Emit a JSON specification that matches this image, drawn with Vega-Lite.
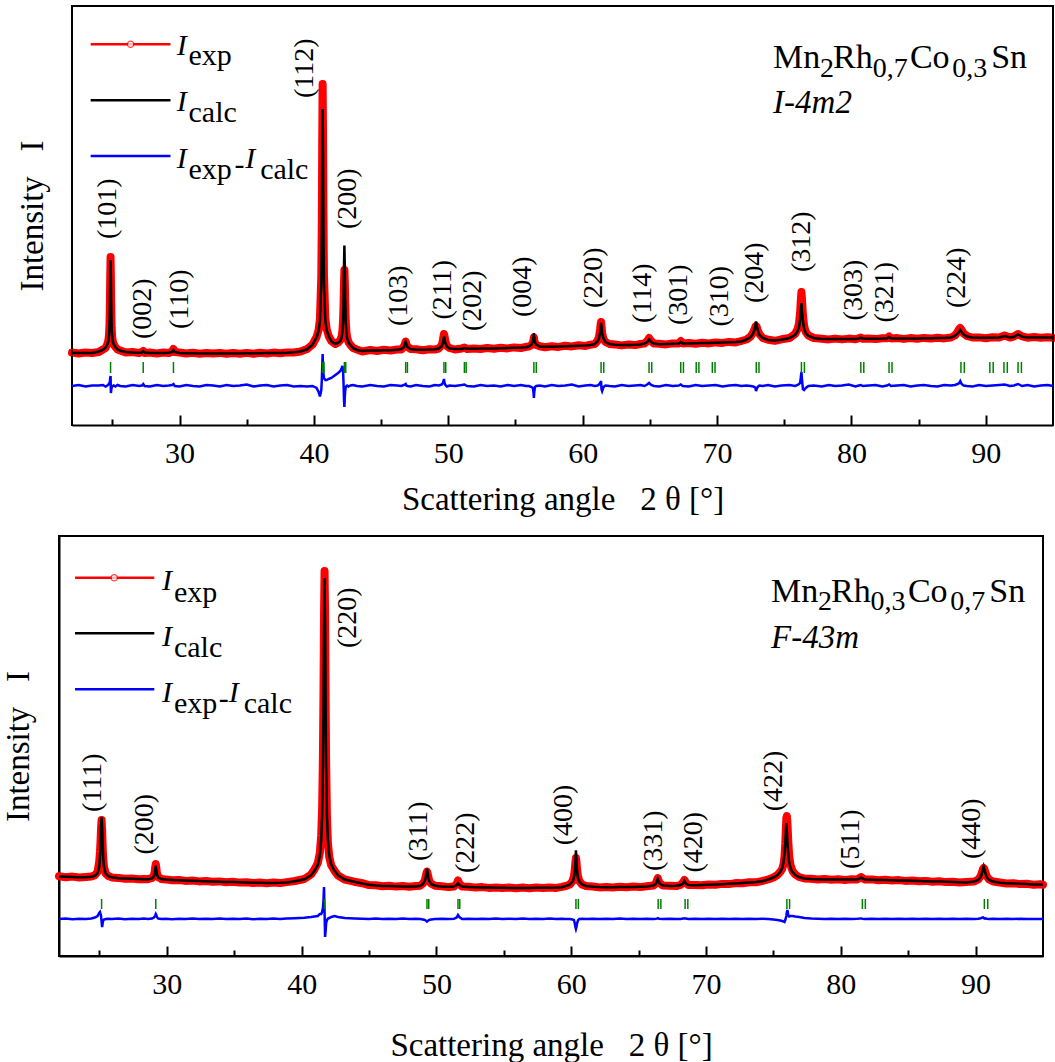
{
"$schema": "https://vega.github.io/schema/vega-lite/v6.json",
"background": "white",
"padding": {"left": 1, "top": 4, "right": 0, "bottom": 0},
"spacing": 19,
"config": {
  "view": {"stroke": "black", "strokeWidth": 2},
  "font": "Liberation Serif",
  "axis": {"grid": false}
},
"resolve": {"scale": {"x": "independent", "y": "independent"}},
"datasets": {
"top": [
{"x":22.0,"c":72,"e":72.5,"d":39},{"x":22.5,"c":72,"e":71.5,"d":40},{"x":23.0,"c":72,"e":72.5,"d":38.5},{"x":23.5,"c":72,"e":72,"d":39.5},
{"x":24.0,"c":73.5,"e":73,"d":39.5},{"x":24.3,"c":75,"e":75.5,"d":40},{"x":24.5,"c":77.5,"e":77,"d":38.5},{"x":24.63,"c":80.4,"e":81,"d":39.5},
{"x":24.71,"c":84,"e":85,"d":40.5},{"x":24.75,"c":88.7,"e":89.5,"d":41},{"x":24.79,"c":98,"e":100,"d":42},{"x":24.82,"c":117.6,"e":120,"d":44},
{"x":24.845,"c":145.5,"e":148,"d":47},{"x":24.87,"c":165,"e":168,"d":49},{"x":24.895,"c":145.5,"e":146,"d":32},{"x":24.92,"c":117.6,"e":116,"d":35},
{"x":24.95,"c":98,"e":97,"d":37.5},{"x":24.99,"c":88.7,"e":88,"d":38.5},{"x":25.03,"c":84.1,"e":84,"d":39},{"x":25.11,"c":80.4,"e":80.5,"d":39.5},
{"x":25.23,"c":78,"e":78,"d":38.5},{"x":25.39,"c":75.7,"e":75.5,"d":40},{"x":25.59,"c":74.3,"e":74.5,"d":39},{"x":26.0,"c":73,"e":72.5,"d":38.5},
{"x":26.5,"c":72.5,"e":73,"d":40},{"x":27.0,"c":72.3,"e":72,"d":39},{"x":27.2,"c":72.5,"e":73,"d":39.5},{"x":27.3,"c":74,"e":74,"d":41},
{"x":27.4,"c":72.5,"e":72,"d":39},{"x":27.8,"c":72,"e":72.5,"d":38.5},{"x":28.3,"c":72,"e":71.5,"d":40},{"x":28.8,"c":72,"e":72.5,"d":39},
{"x":29.2,"c":72.2,"e":72,"d":39.5},{"x":29.45,"c":73,"e":73.5,"d":40},{"x":29.55,"c":75,"e":76,"d":41},{"x":29.65,"c":73,"e":73,"d":39},
{"x":30.0,"c":72,"e":72.5,"d":38.5},{"x":30.5,"c":71.8,"e":71.5,"d":40},{"x":31.0,"c":71.8,"e":72.3,"d":39},{"x":31.5,"c":71.6,"e":71.2,"d":38.5},
{"x":32.0,"c":71.6,"e":72,"d":40},{"x":32.5,"c":71.6,"e":71.4,"d":39.5},{"x":33.0,"c":71.6,"e":72.1,"d":38.5},{"x":33.5,"c":71.6,"e":71.2,"d":40},
{"x":34.0,"c":71.6,"e":72,"d":39},{"x":34.5,"c":71.6,"e":71.3,"d":39.5},{"x":35.0,"c":71.7,"e":72.1,"d":40.5},{"x":35.5,"c":71.7,"e":71.3,"d":38.5},
{"x":36.0,"c":71.8,"e":72.2,"d":39.5},{"x":36.5,"c":71.9,"e":71.5,"d":40},{"x":37.0,"c":72,"e":72.4,"d":38.5},{"x":37.5,"c":72.1,"e":71.8,"d":39.5},
{"x":38.0,"c":72.3,"e":72.6,"d":40},{"x":38.5,"c":72.8,"e":72.5,"d":38.5},{"x":39.0,"c":73.5,"e":73.5,"d":39},{"x":39.5,"c":75.7,"e":76,"d":38.5},
{"x":39.9,"c":80.2,"e":80.5,"d":39},{"x":40.2,"c":87.9,"e":88,"d":37},{"x":40.35,"c":94,"e":95,"d":33},{"x":40.45,"c":103.8,"e":106,"d":28.5},
{"x":40.55,"c":140.5,"e":148,"d":35},{"x":40.59,"c":194,"e":205,"d":45},{"x":40.62,"c":267,"e":285,"d":58},{"x":40.65,"c":316,"e":341,"d":71},
{"x":40.68,"c":267.5,"e":290,"d":60},{"x":40.71,"c":194.5,"e":212,"d":51},{"x":40.75,"c":141.5,"e":150,"d":47},{"x":40.85,"c":104.4,"e":107,"d":45},
{"x":40.95,"c":94.8,"e":96,"d":45},{"x":41.1,"c":89,"e":89,"d":46},{"x":41.3,"c":83.6,"e":84,"d":47},{"x":41.6,"c":81.2,"e":81,"d":50},
{"x":41.8,"c":82.1,"e":82.5,"d":52},{"x":41.97,"c":83.9,"e":85,"d":54},{"x":42.07,"c":87.9,"e":89,"d":57},{"x":42.12,"c":93,"e":94,"d":59},
{"x":42.17,"c":103.5,"e":104,"d":55},{"x":42.21,"c":126.8,"e":122,"d":40},{"x":42.24,"c":158.5,"e":143,"d":25},{"x":42.27,"c":179.6,"e":155,"d":18},
{"x":42.30,"c":158.3,"e":144,"d":28},{"x":42.33,"c":126.5,"e":124,"d":34},{"x":42.37,"c":103.1,"e":104,"d":38},{"x":42.42,"c":92.4,"e":93,"d":39},
{"x":42.47,"c":87.1,"e":88,"d":39.5},{"x":42.57,"c":82.6,"e":83,"d":38.5},{"x":42.72,"c":79.8,"e":80,"d":39.5},{"x":42.92,"c":76.8,"e":77,"d":40},
{"x":43.2,"c":75,"e":75.5,"d":39},{"x":43.6,"c":74,"e":73.5,"d":38.5},{"x":44.2,"c":74.5,"e":75,"d":40},{"x":44.7,"c":74.5,"e":74,"d":39},
{"x":45.2,"c":74.7,"e":75.2,"d":38.5},{"x":45.7,"c":74.8,"e":74.5,"d":40},{"x":46.2,"c":75.2,"e":75.5,"d":39.5},{"x":46.5,"c":76,"e":75.5,"d":39},
{"x":46.7,"c":78,"e":78.5,"d":40},{"x":46.78,"c":81,"e":81.5,"d":40.5},{"x":46.83,"c":83,"e":83.5,"d":41},{"x":46.88,"c":81,"e":81,"d":39.5},
{"x":46.96,"c":78,"e":78.5,"d":39},{"x":47.2,"c":76,"e":76,"d":38.5},{"x":47.6,"c":75.3,"e":75.8,"d":40},{"x":48.1,"c":75.2,"e":74.8,"d":39},
{"x":48.6,"c":75.4,"e":75.8,"d":38.5},{"x":49.0,"c":75.8,"e":75.5,"d":40},{"x":49.3,"c":76.5,"e":76.5,"d":39.5},{"x":49.52,"c":79,"e":80,"d":40.5},
{"x":49.6,"c":82.5,"e":85,"d":42},{"x":49.65,"c":86,"e":89,"d":44},{"x":49.68,"c":88.5,"e":91,"d":46},{"x":49.72,"c":86,"e":89,"d":42},
{"x":49.78,"c":82,"e":84,"d":40},{"x":49.9,"c":78.5,"e":79,"d":38.5},{"x":50.1,"c":76.5,"e":77,"d":39.5},{"x":50.5,"c":76,"e":75.5,"d":39},
{"x":51.0,"c":76,"e":76.5,"d":40},{"x":51.2,"c":77,"e":77.5,"d":40.5},{"x":51.4,"c":76.2,"e":76,"d":39},{"x":51.9,"c":76.2,"e":76.6,"d":38.5},
{"x":52.4,"c":76.4,"e":76,"d":40},{"x":52.9,"c":76.5,"e":77,"d":39},{"x":53.4,"c":76.6,"e":76.2,"d":39.5},{"x":53.9,"c":76.8,"e":77.2,"d":38.5},
{"x":54.4,"c":77,"e":76.6,"d":40},{"x":54.9,"c":77.2,"e":77.6,"d":39},{"x":55.4,"c":77.4,"e":77,"d":40},{"x":55.8,"c":77.8,"e":78.2,"d":39},
{"x":56.0,"c":78.5,"e":78.5,"d":39},{"x":56.2,"c":80.5,"e":80,"d":38},{"x":56.3,"c":83.5,"e":82.5,"d":37},{"x":56.34,"c":87.5,"e":85,"d":33},
{"x":56.37,"c":92,"e":87.5,"d":27},{"x":56.40,"c":87.5,"e":85,"d":33},{"x":56.45,"c":83,"e":82,"d":38},{"x":56.55,"c":80.5,"e":80,"d":39},
{"x":56.8,"c":78.5,"e":78.8,"d":39.5},{"x":57.2,"c":78.2,"e":77.8,"d":38.5},{"x":57.7,"c":78.3,"e":78.8,"d":40},{"x":58.2,"c":78.5,"e":78.1,"d":39},
{"x":58.7,"c":78.8,"e":79.3,"d":39.5},{"x":59.2,"c":79,"e":78.6,"d":40.5},{"x":59.7,"c":79.2,"e":79.7,"d":38.5},{"x":60.2,"c":79.5,"e":79.1,"d":39.5},
{"x":60.6,"c":80,"e":80.4,"d":40},{"x":60.9,"c":81,"e":81,"d":39},{"x":61.1,"c":83.5,"e":84,"d":39.5},{"x":61.22,"c":87,"e":88.5,"d":40.5},
{"x":61.3,"c":93,"e":96,"d":42},{"x":61.34,"c":98,"e":101,"d":43},{"x":61.37,"c":102,"e":103,"d":44},{"x":61.40,"c":98,"e":99,"d":36},
{"x":61.45,"c":92,"e":92,"d":34},{"x":61.55,"c":86.5,"e":86,"d":38},{"x":61.7,"c":83,"e":83,"d":39.5},{"x":62.0,"c":81,"e":81,"d":39},
{"x":62.4,"c":80.2,"e":80.6,"d":38.5},{"x":62.9,"c":80,"e":79.6,"d":40},{"x":63.4,"c":80.1,"e":80.5,"d":39},{"x":63.9,"c":80.3,"e":79.9,"d":39.5},
{"x":64.3,"c":80.6,"e":81,"d":40},{"x":64.6,"c":81.5,"e":81.5,"d":39},{"x":64.8,"c":83,"e":84,"d":40.5},{"x":64.94,"c":85.5,"e":87,"d":42},
{"x":65.1,"c":83,"e":84,"d":40},{"x":65.3,"c":81.5,"e":81.5,"d":39},{"x":65.7,"c":80.8,"e":81.2,"d":38.5},{"x":66.2,"c":81,"e":80.6,"d":40},
{"x":66.7,"c":81.2,"e":81.6,"d":39},{"x":67.15,"c":81.5,"e":81.5,"d":39.5},{"x":67.3,"c":83,"e":84,"d":40.5},{"x":67.45,"c":81.5,"e":81.5,"d":39},
{"x":67.9,"c":81.5,"e":81.9,"d":38.5},{"x":68.4,"c":81.7,"e":81.3,"d":40},{"x":68.9,"c":81.9,"e":82.3,"d":39},{"x":69.4,"c":82,"e":81.6,"d":39.5},
{"x":69.9,"c":82.2,"e":82.6,"d":40},{"x":70.4,"c":82.5,"e":82.1,"d":38.5},{"x":70.9,"c":82.7,"e":83.1,"d":39.5},{"x":71.4,"c":83,"e":82.6,"d":40},
{"x":71.8,"c":83.6,"e":84,"d":39},{"x":72.2,"c":85.5,"e":85.5,"d":39.5},{"x":72.5,"c":88,"e":88.5,"d":39},{"x":72.7,"c":92,"e":93,"d":38.5},
{"x":72.8,"c":96,"e":96,"d":38},{"x":72.86,"c":100,"e":98.5,"d":37},{"x":72.9,"c":103.5,"e":99,"d":34},{"x":72.95,"c":100,"e":98,"d":36},
{"x":73.02,"c":95,"e":95,"d":38},{"x":73.15,"c":90,"e":91,"d":39.5},{"x":73.4,"c":87,"e":87,"d":39},{"x":73.8,"c":85,"e":85.3,"d":40},
{"x":74.3,"c":84.6,"e":84.2,"d":38.5},{"x":74.8,"c":85.3,"e":85.7,"d":39.5},{"x":75.4,"c":87,"e":87,"d":40},{"x":75.8,"c":90,"e":91,"d":39},
{"x":76.0,"c":94,"e":96,"d":40},{"x":76.1,"c":98,"e":102,"d":41},{"x":76.18,"c":105,"e":112,"d":42},{"x":76.23,"c":113,"e":124,"d":47},
{"x":76.28,"c":122,"e":133,"d":53},{"x":76.33,"c":113,"e":124,"d":44},{"x":76.39,"c":104,"e":110,"d":36},{"x":76.48,"c":96,"e":99,"d":35},
{"x":76.6,"c":92,"e":93,"d":37},{"x":76.8,"c":89,"e":89.5,"d":39},{"x":77.2,"c":87,"e":87,"d":39.5},{"x":77.8,"c":86,"e":86.3,"d":38.5},
{"x":78.3,"c":86,"e":85.6,"d":40},{"x":78.8,"c":86,"e":86.4,"d":39},{"x":79.3,"c":86,"e":85.6,"d":39.5},{"x":79.8,"c":86,"e":86.4,"d":40.5},
{"x":80.3,"c":86.1,"e":85.7,"d":38.5},{"x":80.55,"c":86.5,"e":86.8,"d":39.5},{"x":80.7,"c":87.2,"e":87.5,"d":40},{"x":80.85,"c":86.5,"e":86.2,"d":39},
{"x":81.3,"c":86.2,"e":86.6,"d":39.5},{"x":81.8,"c":86.3,"e":85.9,"d":40},{"x":82.3,"c":86.4,"e":86.8,"d":38.5},{"x":82.65,"c":86.8,"e":86.8,"d":39.5},
{"x":82.8,"c":88,"e":88.5,"d":40.5},{"x":82.95,"c":86.8,"e":86.5,"d":39},{"x":83.4,"c":86.5,"e":86.9,"d":39.5},{"x":83.9,"c":86.5,"e":86.1,"d":40},
{"x":84.4,"c":86.5,"e":86.9,"d":38.5},{"x":84.9,"c":86.6,"e":86.2,"d":39.5},{"x":85.4,"c":86.7,"e":87.1,"d":40},{"x":85.9,"c":86.8,"e":86.4,"d":39},
{"x":86.4,"c":86.9,"e":87.3,"d":38.5},{"x":86.9,"c":87,"e":86.6,"d":40},{"x":87.4,"c":87.5,"e":87.5,"d":39.5},{"x":87.7,"c":89,"e":89.5,"d":40},
{"x":87.9,"c":91.5,"e":93,"d":41},{"x":88.02,"c":93.5,"e":96,"d":42},{"x":88.1,"c":95,"e":97,"d":44},{"x":88.2,"c":93,"e":95,"d":41},
{"x":88.35,"c":90.5,"e":91.5,"d":39.5},{"x":88.6,"c":88.5,"e":89,"d":39},{"x":89.0,"c":87.5,"e":87.5,"d":38.5},{"x":89.5,"c":87.2,"e":87.6,"d":40},
{"x":90.0,"c":87.2,"e":86.8,"d":39},{"x":90.5,"c":87.3,"e":87.7,"d":39.5},{"x":91.0,"c":87.5,"e":87.5,"d":40},{"x":91.4,"c":89,"e":89.5,"d":40.5},
{"x":91.8,"c":87.6,"e":87.4,"d":39},{"x":92.1,"c":88.2,"e":88.6,"d":39.5},{"x":92.4,"c":90.5,"e":91,"d":41},{"x":92.7,"c":88.3,"e":88.6,"d":39},
{"x":93.1,"c":87.6,"e":87.3,"d":40},{"x":93.6,"c":87.5,"e":87.9,"d":38.5},{"x":94.1,"c":87.5,"e":87.2,"d":39.5},{"x":94.6,"c":87.5,"e":87.8,"d":40},
{"x":95.0,"c":87.5,"e":87.2,"d":39}
],
"topFrame": [
{"x":22,"x2":22,"y":0,"y2":419},{"x":95,"x2":95,"y":0,"y2":419},{"x":22,"x2":95,"y":419,"y2":419}
],
"topTicks": [
{"x":24.87},{"x":27.3},{"x":29.55},{"x":40.65},{"x":40.75},{"x":42.27},{"x":42.37},{"x":46.83},{"x":46.96},{"x":49.68},{"x":49.81},{"x":51.2},{"x":51.33},
{"x":56.37},{"x":56.55},{"x":61.37},{"x":61.57},{"x":64.94},{"x":65.14},{"x":67.3},{"x":67.5},{"x":68.45},{"x":68.65},{"x":69.65},{"x":69.85},
{"x":72.92},{"x":73.12},{"x":76.28},{"x":76.5},{"x":80.7},{"x":80.92},{"x":82.8},{"x":83.02},{"x":88.15},{"x":88.4},{"x":90.3},{"x":90.55},
{"x":91.35},{"x":91.6},{"x":92.4},{"x":92.65}
],
"topHkl": [
{"x":24.65,"y":186,"t":"(101)"},{"x":27.25,"y":86,"t":"(002)"},{"x":30.0,"y":96,"t":"(110)"},{"x":39.37,"y":327,"t":"(112)"},
{"x":42.53,"y":196,"t":"(200)"},{"x":46.33,"y":99,"t":"(103)"},{"x":49.6,"y":105.5,"t":"(211)"},{"x":51.86,"y":94,"t":"(202)"},
{"x":55.58,"y":108,"t":"(004)"},{"x":60.81,"y":117,"t":"(220)"},{"x":64.5,"y":102,"t":"(114)"},{"x":67.15,"y":100,"t":"(301)"},
{"x":70.2,"y":98.4,"t":"(310)"},{"x":72.86,"y":122,"t":"(204)"},{"x":76.29,"y":153,"t":"(312)"},{"x":80.22,"y":104.6,"t":"(303)"},
{"x":82.49,"y":102.5,"t":"(321)"},{"x":87.84,"y":117,"t":"(224)"}
],
"topLeg": [
{"x":23.39,"x2":29.33,"y":380.7,"s":"exp"},{"x":23.39,"x2":29.33,"y":324.7,"s":"calc"},{"x":23.39,"x2":29.33,"y":269,"s":"diff"},
{"x":26.36,"y":380.7,"s":"marker"}
],
"topTxt": [
{"x":29.8,"y":370,"t":"I","r":"sym"},{"x":30.67,"y":360,"t":"exp","r":"lab"},
{"x":29.8,"y":314,"t":"I","r":"sym"},{"x":30.67,"y":303,"t":"calc","r":"lab"},
{"x":29.8,"y":257.5,"t":"I","r":"sym"},{"x":30.67,"y":246.5,"t":"exp","r":"lab"},{"x":34.1,"y":251,"t":"-","r":"lab"},
{"x":34.9,"y":257.5,"t":"I","r":"sym"},{"x":36.0,"y":246.5,"t":"calc","r":"lab"},
{"x":74.17,"y":357.3,"t":"Mn","r":"fm"},{"x":77.66,"y":348.5,"t":"2","r":"fs"},{"x":78.63,"y":357.3,"t":"Rh","r":"fm"},
{"x":81.58,"y":348.5,"t":"0,7","r":"fs"},{"x":84.35,"y":357.3,"t":"Co","r":"fm"},{"x":87.5,"y":348.5,"t":"0,3","r":"fs"},
{"x":90.4,"y":357.3,"t":"Sn","r":"fm"},{"x":74.17,"y":312.3,"t":"I-4m2","r":"sg"}
],
"bot": [
{"x":22.0,"c":79.5,"e":79.8,"d":37},{"x":22.5,"c":79.2,"e":78.8,"d":37.5},{"x":23.0,"c":79,"e":79.4,"d":36.8},{"x":23.5,"c":78.8,"e":78.5,"d":37.3},
{"x":24.0,"c":78.8,"e":79.1,"d":37},{"x":24.4,"c":79.3,"e":79.5,"d":37.5},{"x":24.66,"c":80.2,"e":80.8,"d":38.5},{"x":24.86,"c":82.6,"e":84,"d":40},
{"x":24.98,"c":89,"e":94,"d":43},{"x":25.04,"c":98,"e":104,"d":44},{"x":25.08,"c":111.3,"e":114,"d":42},{"x":25.12,"c":129.5,"e":128,"d":40},
{"x":25.16,"c":138.6,"e":136,"d":34},{"x":25.2,"c":129.5,"e":125,"d":29},{"x":25.24,"c":111,"e":108,"d":33},{"x":25.28,"c":98,"e":97,"d":35.5},
{"x":25.34,"c":89,"e":89,"d":36.5},{"x":25.46,"c":82.3,"e":82.5,"d":37},{"x":25.66,"c":79.8,"e":80,"d":37.3},{"x":25.92,"c":78.8,"e":78.6,"d":37},
{"x":26.4,"c":77.8,"e":78.1,"d":37.4},{"x":26.9,"c":77.5,"e":77.2,"d":36.8},{"x":27.4,"c":77.2,"e":77.5,"d":37.3},{"x":27.9,"c":77,"e":76.7,"d":37},
{"x":28.3,"c":76.8,"e":77.1,"d":37.4},{"x":28.6,"c":76.8,"e":76.8,"d":37},{"x":28.9,"c":77.6,"e":78,"d":37.5},{"x":29.04,"c":79.5,"e":80.5,"d":38.5},
{"x":29.1,"c":82,"e":84,"d":39.5},{"x":29.14,"c":86,"e":89,"d":40.5},{"x":29.18,"c":90.3,"e":92,"d":42},{"x":29.22,"c":86,"e":88,"d":41},
{"x":29.26,"c":82,"e":83,"d":39},{"x":29.36,"c":78.5,"e":79,"d":37.5},{"x":29.6,"c":77,"e":77,"d":37},{"x":29.9,"c":76.4,"e":76.6,"d":37.3},
{"x":30.4,"c":76,"e":75.7,"d":36.8},{"x":30.9,"c":75.7,"e":76,"d":37.2},{"x":31.4,"c":75.4,"e":75.1,"d":37},{"x":31.9,"c":75.2,"e":75.5,"d":37.4},
{"x":32.4,"c":74.9,"e":74.6,"d":36.9},{"x":32.9,"c":74.7,"e":75,"d":37.2},{"x":33.4,"c":74.5,"e":74.2,"d":37},{"x":33.9,"c":74.3,"e":74.6,"d":37.4},
{"x":34.4,"c":74.1,"e":73.8,"d":36.9},{"x":34.9,"c":73.9,"e":74.2,"d":37.2},{"x":35.4,"c":73.7,"e":73.4,"d":37},{"x":35.9,"c":73.5,"e":73.8,"d":37.4},
{"x":36.4,"c":73.3,"e":73,"d":36.8},{"x":36.9,"c":73.2,"e":73.5,"d":37.2},{"x":37.4,"c":73.1,"e":72.8,"d":37},{"x":37.9,"c":73.1,"e":73.4,"d":37.4},
{"x":38.4,"c":73.2,"e":72.9,"d":37},{"x":38.9,"c":73.6,"e":73.9,"d":37.5},{"x":39.5,"c":74.8,"e":75,"d":37.8},{"x":40.2,"c":76.7,"e":77,"d":38.2},
{"x":40.7,"c":80.6,"e":81.5,"d":39},{"x":40.95,"c":85.2,"e":86.5,"d":39.5},{"x":41.2,"c":91.3,"e":93,"d":40},{"x":41.35,"c":100.5,"e":103,"d":42},
{"x":41.45,"c":115.7,"e":120,"d":42},{"x":41.52,"c":140,"e":147,"d":44},{"x":41.58,"c":189,"e":200,"d":48},{"x":41.62,"c":250,"e":262,"d":55},
{"x":41.66,"c":332,"e":340,"d":69},{"x":41.7,"c":378,"e":385,"d":45},{"x":41.74,"c":332,"e":345,"d":19},{"x":41.78,"c":250,"e":255,"d":25},
{"x":41.82,"c":189,"e":190,"d":33},{"x":41.88,"c":140,"e":138,"d":36},{"x":41.95,"c":115.7,"e":113,"d":37.5},{"x":42.05,"c":100.5,"e":99,"d":38},
{"x":42.2,"c":91.3,"e":90.5,"d":39},{"x":42.45,"c":85.2,"e":85,"d":40},{"x":42.7,"c":80.6,"e":80.5,"d":39},{"x":43.2,"c":76.5,"e":76.5,"d":38},
{"x":43.9,"c":74.3,"e":74.3,"d":37.5},{"x":44.5,"c":72.5,"e":72.8,"d":37.2},{"x":45.0,"c":71.2,"e":70.9,"d":37},{"x":45.5,"c":70.5,"e":70.8,"d":37.4},
{"x":46.0,"c":70.1,"e":69.8,"d":36.9},{"x":46.5,"c":69.9,"e":70.2,"d":37.2},{"x":47.0,"c":69.7,"e":69.4,"d":37},{"x":47.5,"c":69.6,"e":69.9,"d":37.4},
{"x":48.0,"c":69.5,"e":69.2,"d":36.9},{"x":48.5,"c":69.6,"e":69.9,"d":37.2},{"x":48.8,"c":70.3,"e":70.3,"d":37},{"x":49.0,"c":72,"e":72.5,"d":36.5},
{"x":49.14,"c":75,"e":75.5,"d":36},{"x":49.2,"c":78.5,"e":79,"d":35.5},{"x":49.26,"c":84,"e":83,"d":35},{"x":49.3,"c":87.2,"e":84.5,"d":34.5},
{"x":49.34,"c":84,"e":83,"d":35},{"x":49.4,"c":78.5,"e":79,"d":35.5},{"x":49.46,"c":75,"e":75.5,"d":36},{"x":49.6,"c":72,"e":72.5,"d":36.5},
{"x":49.9,"c":70.3,"e":70.3,"d":37},{"x":50.4,"c":69.4,"e":69.7,"d":37.3},{"x":50.9,"c":69.2,"e":68.9,"d":36.9},{"x":51.3,"c":69.5,"e":69.5,"d":37.2},
{"x":51.5,"c":71,"e":72,"d":38.5},{"x":51.6,"c":72.7,"e":75.5,"d":41},{"x":51.7,"c":71,"e":72.5,"d":39},{"x":51.9,"c":69.5,"e":69.5,"d":37},
{"x":52.4,"c":68.9,"e":69.2,"d":37.3},{"x":52.9,"c":68.7,"e":68.4,"d":36.9},{"x":53.4,"c":68.6,"e":68.9,"d":37.2},{"x":53.9,"c":68.4,"e":68.1,"d":37},
{"x":54.4,"c":68.3,"e":68.6,"d":37.4},{"x":54.9,"c":68.2,"e":67.9,"d":36.9},{"x":55.4,"c":68.1,"e":68.4,"d":37.2},{"x":55.9,"c":68.1,"e":67.8,"d":37},
{"x":56.4,"c":68.1,"e":68.4,"d":37.4},{"x":56.9,"c":68.1,"e":67.8,"d":36.9},{"x":57.4,"c":68.2,"e":68.5,"d":37.2},{"x":57.9,"c":68.2,"e":67.9,"d":37},
{"x":58.4,"c":68.3,"e":68.6,"d":37.4},{"x":58.9,"c":68.4,"e":68.1,"d":37},{"x":59.3,"c":68.8,"e":69.1,"d":37.2},{"x":59.6,"c":70,"e":70,"d":37},
{"x":59.9,"c":71.5,"e":71.5,"d":37},{"x":60.1,"c":74.5,"e":75,"d":36.5},{"x":60.2,"c":78,"e":79.5,"d":36},{"x":60.26,"c":84,"e":86,"d":33},
{"x":60.31,"c":95,"e":94,"d":29},{"x":60.35,"c":105.6,"e":98,"d":27},{"x":60.39,"c":95,"e":94,"d":29},{"x":60.44,"c":84,"e":86,"d":33},
{"x":60.5,"c":78,"e":79.5,"d":35.5},{"x":60.6,"c":74.5,"e":75,"d":37},{"x":60.8,"c":71.5,"e":71.5,"d":37.3},{"x":61.1,"c":70,"e":70,"d":37},
{"x":61.6,"c":69.2,"e":69.5,"d":37.3},{"x":62.1,"c":68.9,"e":68.6,"d":36.9},{"x":62.6,"c":68.8,"e":69.1,"d":37.2},{"x":63.1,"c":68.8,"e":68.5,"d":37},
{"x":63.6,"c":68.9,"e":69.2,"d":37.4},{"x":64.1,"c":69,"e":68.7,"d":37},{"x":64.6,"c":69.1,"e":69.4,"d":37.2},{"x":65.1,"c":69.2,"e":68.9,"d":36.9},
{"x":65.6,"c":69.4,"e":69.7,"d":37.3},{"x":66.1,"c":70.5,"e":70.5,"d":37},{"x":66.3,"c":72.5,"e":73,"d":37.3},{"x":66.38,"c":75.5,"e":76.5,"d":37.6},
{"x":66.42,"c":77.2,"e":78,"d":37.8},{"x":66.46,"c":75.5,"e":76.5,"d":37.5},{"x":66.55,"c":72.5,"e":73,"d":37.2},{"x":66.8,"c":70.5,"e":70.5,"d":37},
{"x":67.3,"c":70,"e":70.3,"d":37.3},{"x":67.8,"c":70.2,"e":69.9,"d":36.9},{"x":68.1,"c":71,"e":71,"d":37},{"x":68.3,"c":72.5,"e":73.5,"d":37.4},
{"x":68.4,"c":75,"e":76,"d":37.8},{"x":68.5,"c":72.5,"e":73.5,"d":37.4},{"x":68.7,"c":71,"e":71,"d":37},{"x":69.2,"c":70.8,"e":71.1,"d":37.2},
{"x":69.7,"c":71,"e":70.7,"d":36.9},{"x":70.2,"c":71.2,"e":71.5,"d":37.2},{"x":70.7,"c":71.5,"e":71.2,"d":37},{"x":71.2,"c":71.8,"e":72.1,"d":37.3},
{"x":71.7,"c":72.2,"e":71.9,"d":36.9},{"x":72.2,"c":72.6,"e":72.9,"d":37.2},{"x":72.7,"c":73,"e":72.7,"d":37},{"x":73.2,"c":73.5,"e":73.8,"d":37.3},
{"x":73.7,"c":74,"e":73.7,"d":37},{"x":74.2,"c":74.8,"e":75.1,"d":37.2},{"x":74.6,"c":76.5,"e":76.5,"d":37},{"x":75.0,"c":78.5,"e":78.5,"d":36.5},
{"x":75.3,"c":81,"e":81,"d":36},{"x":75.5,"c":84,"e":84,"d":35.5},{"x":75.65,"c":88,"e":87,"d":35},{"x":75.75,"c":94,"e":92,"d":34.5},
{"x":75.82,"c":102,"e":99,"d":34},{"x":75.88,"c":113,"e":112,"d":36},{"x":75.92,"c":124,"e":126,"d":38},{"x":75.96,"c":133,"e":138,"d":40},
{"x":76.0,"c":124,"e":140,"d":44},{"x":76.04,"c":113,"e":133,"d":46},{"x":76.1,"c":102,"e":115,"d":41},{"x":76.17,"c":94,"e":100,"d":39.5},
{"x":76.27,"c":88,"e":91,"d":40},{"x":76.42,"c":84,"e":85,"d":40},{"x":76.62,"c":81,"e":81.5,"d":39.5},{"x":76.9,"c":79,"e":79,"d":39},
{"x":77.3,"c":77.5,"e":77.5,"d":38},{"x":77.8,"c":77,"e":77.3,"d":37.5},{"x":78.3,"c":76.8,"e":76.5,"d":37.2},{"x":78.8,"c":76.6,"e":76.9,"d":37},
{"x":79.3,"c":76.5,"e":76.2,"d":37.3},{"x":79.8,"c":76.4,"e":76.7,"d":36.9},{"x":80.3,"c":76.4,"e":76.1,"d":37.2},{"x":80.8,"c":76.4,"e":76.7,"d":37},
{"x":81.2,"c":76.5,"e":76.5,"d":37.2},{"x":81.4,"c":77.5,"e":78,"d":37.4},{"x":81.5,"c":78.5,"e":79,"d":37.6},{"x":81.6,"c":77.5,"e":78,"d":37.3},
{"x":81.8,"c":76.5,"e":76.5,"d":37},{"x":82.3,"c":76.3,"e":76.6,"d":37.2},{"x":82.8,"c":76.1,"e":75.8,"d":36.9},{"x":83.3,"c":76,"e":76.3,"d":37.2},
{"x":83.8,"c":75.8,"e":75.5,"d":37},{"x":84.3,"c":75.6,"e":75.9,"d":37.3},{"x":84.8,"c":75.4,"e":75.1,"d":36.9},{"x":85.3,"c":75.2,"e":75.5,"d":37.2},
{"x":85.8,"c":75,"e":74.7,"d":37},{"x":86.3,"c":74.8,"e":75.1,"d":37.3},{"x":86.8,"c":74.6,"e":74.3,"d":36.9},{"x":87.3,"c":74.4,"e":74.7,"d":37.2},
{"x":87.8,"c":74.2,"e":73.9,"d":37},{"x":88.3,"c":74,"e":74.3,"d":37.3},{"x":88.8,"c":73.8,"e":73.5,"d":36.9},{"x":89.3,"c":73.6,"e":73.9,"d":37.2},
{"x":89.9,"c":74.5,"e":74.5,"d":37},{"x":90.2,"c":76,"e":76.5,"d":37.3},{"x":90.38,"c":79,"e":80,"d":37.8},{"x":90.48,"c":83,"e":84,"d":38.3},
{"x":90.55,"c":87,"e":87,"d":38.6},{"x":90.6,"c":89.5,"e":88,"d":38},{"x":90.65,"c":87,"e":87,"d":37.5},{"x":90.72,"c":83,"e":84,"d":37.8},
{"x":90.82,"c":79,"e":80,"d":37.3},{"x":91.0,"c":76,"e":76.5,"d":37},{"x":91.3,"c":74.5,"e":74.5,"d":37.2},{"x":91.8,"c":73.2,"e":73.5,"d":36.9},
{"x":92.3,"c":72.8,"e":72.5,"d":37.2},{"x":92.8,"c":72.5,"e":72.8,"d":37},{"x":93.3,"c":72.2,"e":71.9,"d":37.2},{"x":93.8,"c":71.9,"e":72.2,"d":36.9},
{"x":94.3,"c":71.6,"e":71.3,"d":37.1},{"x":94.8,"c":71.4,"e":71.7,"d":37},{"x":95.0,"c":71.3,"e":71.3,"d":37}
],
"botTicks": [
{"x":25.16},{"x":29.18},{"x":41.7},{"x":49.3},{"x":49.43},{"x":51.6},{"x":51.73},{"x":60.35},{"x":60.53},{"x":66.45},{"x":66.65},
{"x":68.45},{"x":68.65},{"x":76.0},{"x":76.2},{"x":81.6},{"x":81.82},{"x":90.65},{"x":90.9}
],
"botHkl": [
{"x":24.49,"y":144,"t":"(111)"},{"x":28.38,"y":101.4,"t":"(200)"},{"x":43.44,"y":308,"t":"(220)"},{"x":48.73,"y":95,"t":"(311)"},
{"x":52.18,"y":83,"t":"(222)"},{"x":59.47,"y":110.7,"t":"(400)"},{"x":66.16,"y":85,"t":"(331)"},{"x":69.09,"y":83.4,"t":"(420)"},
{"x":75.04,"y":144.8,"t":"(422)"},{"x":80.73,"y":87,"t":"(511)"},{"x":89.72,"y":97,"t":"(440)"}
],
"botLeg": [
{"x":23.19,"x2":29.07,"y":378.3,"s":"exp"},{"x":23.19,"x2":29.07,"y":322.7,"s":"calc"},{"x":23.19,"x2":29.07,"y":266.7,"s":"diff"},
{"x":26.1,"y":378.3,"s":"marker"}
],
"botTxt": [
{"x":29.64,"y":366,"t":"I","r":"sym"},{"x":30.53,"y":354.3,"t":"exp","r":"lab"},
{"x":29.64,"y":310,"t":"I","r":"sym"},{"x":30.53,"y":299.3,"t":"calc","r":"lab"},
{"x":29.64,"y":254.3,"t":"I","r":"sym"},{"x":30.53,"y":242.7,"t":"exp","r":"lab"},{"x":33.85,"y":248,"t":"-","r":"lab"},
{"x":34.6,"y":254.3,"t":"I","r":"sym"},{"x":35.7,"y":242.7,"t":"calc","r":"lab"},
{"x":74.82,"y":354.3,"t":"Mn","r":"fm"},{"x":78.3,"y":346,"t":"2","r":"fs"},{"x":79.27,"y":354.3,"t":"Rh","r":"fm"},
{"x":82.21,"y":346,"t":"0,3","r":"fs"},{"x":84.98,"y":354.3,"t":"Co","r":"fm"},{"x":88.12,"y":346,"t":"0,7","r":"fs"},
{"x":91.02,"y":354.3,"t":"Sn","r":"fm"},{"x":74.82,"y":307.7,"t":"F-43m","r":"sg"}
]
},
"vconcat": [
{
"width": 994, "height": 419,
"view": {"stroke": null},
"encoding": {"x": {"field": "x", "type": "quantitative",
  "scale": {"domain": [22, 95], "range": [13, 994], "nice": false, "zero": false},
  "axis": {"values": [25,30,35,40,45,50,55,60,65,70,75,80,85,90],
    "labelExpr": "datum.value % 10 == 0 ? datum.label : ''",
    "tickSize": {"condition": {"test": "datum.value % 10 == 0", "value": -10}, "value": -6},
    "tickColor": "black", "tickWidth": 2, "domainColor": "black", "domainWidth": 2,
    "labelFont": "Liberation Serif", "labelFontSize": 30, "labelColor": "black", "labelPadding": 23,
    "labelFlush": false, "labelOverlap": false,
    "title": "Scattering angle\u00a0\u00a0\u00a02\u00a0θ\u00a0[°]", "titleFont": "Liberation Serif", "titleFontSize": 33,
    "titleFontWeight": "normal", "titleColor": "black", "titlePadding": 11}}},
"layer": [
  {"data": {"name": "top"}, "mark": {"type": "line", "color": "#ff0000", "strokeWidth": 8, "strokeJoin": "round", "strokeCap": "round"},
   "encoding": {"y": {"field": "e", "type": "quantitative", "scale": {"domain": [0, 419], "nice": false, "zero": false},
     "axis": {"title": "Intensity\u00a0\u00a0\u00a0I", "labels": false, "ticks": false, "domain": false,
       "titleFont": "Liberation Serif", "titleFontSize": 33, "titleFontWeight": "normal", "titleColor": "black",
       "titlePadding": 10}}}},
  {"data": {"name": "topFrame"}, "mark": {"type": "rule", "color": "black", "strokeWidth": 2, "strokeCap": "square"},
   "encoding": {"x2": {"field": "x2"}, "y": {"field": "y", "type": "quantitative"}, "y2": {"field": "y2"}}},
  {"data": {"name": "top"}, "mark": {"type": "point", "shape": "circle", "filled": false, "color": "#ff0000", "size": 34, "strokeWidth": 1.2},
   "encoding": {"y": {"field": "e", "type": "quantitative"}}},
  {"data": {"name": "top"}, "mark": {"type": "line", "color": "black", "strokeWidth": 2.5},
   "encoding": {"y": {"field": "c", "type": "quantitative"}}},
  {"data": {"name": "top"}, "mark": {"type": "line", "color": "#0000ff", "strokeWidth": 2.5},
   "encoding": {"y": {"field": "d", "type": "quantitative"}}},
  {"data": {"name": "topTicks"}, "mark": {"type": "rule", "color": "#008000", "strokeWidth": 1.5},
   "encoding": {"y": {"datum": 52, "type": "quantitative"}, "y2": {"datum": 63}}},
  {"data": {"name": "topHkl"}, "mark": {"type": "text", "angle": 270, "align": "left", "baseline": "middle", "font": "Liberation Serif", "fontSize": 28, "color": "black"},
   "encoding": {"y": {"field": "y", "type": "quantitative"}, "text": {"field": "t"}}},
  {"data": {"name": "topLeg"}, "transform": [{"filter": "datum.s != 'marker'"}], "mark": {"type": "rule", "strokeWidth": 2.5},
   "encoding": {"x2": {"field": "x2"}, "y": {"field": "y", "type": "quantitative"},
     "color": {"field": "s", "type": "nominal", "scale": {"domain": ["exp", "calc", "diff"], "range": ["#ff0000", "#000000", "#0000ff"]}, "legend": null}}},
  {"data": {"name": "topLeg"}, "transform": [{"filter": "datum.s == 'marker'"}], "mark": {"type": "point", "shape": "circle", "filled": true, "fill": "white", "stroke": "#ff0000", "size": 40, "strokeWidth": 1.3},
   "encoding": {"y": {"field": "y", "type": "quantitative"}}},
  {"data": {"name": "topTxt"}, "transform": [{"filter": "datum.r == 'sym'"}], "mark": {"type": "text", "align": "left", "baseline": "alphabetic", "font": "Liberation Serif", "fontStyle": "italic", "fontSize": 30, "color": "black"},
   "encoding": {"y": {"field": "y", "type": "quantitative"}, "text": {"field": "t"}}},
  {"data": {"name": "topTxt"}, "transform": [{"filter": "datum.r == 'lab'"}], "mark": {"type": "text", "align": "left", "baseline": "alphabetic", "font": "Liberation Serif", "fontSize": 30, "color": "black"},
   "encoding": {"y": {"field": "y", "type": "quantitative"}, "text": {"field": "t"}}},
  {"data": {"name": "topTxt"}, "transform": [{"filter": "datum.r == 'fm'"}], "mark": {"type": "text", "align": "left", "baseline": "alphabetic", "font": "Liberation Serif", "fontSize": 34, "color": "black"},
   "encoding": {"y": {"field": "y", "type": "quantitative"}, "text": {"field": "t"}}},
  {"data": {"name": "topTxt"}, "transform": [{"filter": "datum.r == 'fs'"}], "mark": {"type": "text", "align": "left", "baseline": "alphabetic", "font": "Liberation Serif", "fontSize": 28, "color": "black"},
   "encoding": {"y": {"field": "y", "type": "quantitative"}, "text": {"field": "t"}}},
  {"data": {"name": "topTxt"}, "transform": [{"filter": "datum.r == 'sg'"}], "mark": {"type": "text", "align": "left", "baseline": "alphabetic", "font": "Liberation Serif", "fontStyle": "italic", "fontSize": 33, "color": "black"},
   "encoding": {"y": {"field": "y", "type": "quantitative"}, "text": {"field": "t"}}}
]
},
{
"width": 984, "height": 420,
"encoding": {"x": {"field": "x", "type": "quantitative",
  "scale": {"domain": [22, 95], "nice": false, "zero": false},
  "axis": {"values": [25,30,35,40,45,50,55,60,65,70,75,80,85,90],
    "labelExpr": "datum.value % 10 == 0 ? datum.label : ''",
    "tickSize": {"condition": {"test": "datum.value % 10 == 0", "value": -10}, "value": -6},
    "tickColor": "black", "tickWidth": 2, "domainColor": "black", "domainWidth": 2,
    "labelFont": "Liberation Serif", "labelFontSize": 30, "labelColor": "black", "labelPadding": 23,
    "labelFlush": false, "labelOverlap": false,
    "title": "Scattering angle\u00a0\u00a0\u00a02\u00a0θ\u00a0[°]", "titleFont": "Liberation Serif", "titleFontSize": 33,
    "titleFontWeight": "normal", "titleColor": "black", "titlePadding": 26}}},
"layer": [
  {"data": {"name": "bot"}, "mark": {"type": "line", "color": "#ff0000", "strokeWidth": 8, "strokeJoin": "round", "strokeCap": "round"},
   "encoding": {"y": {"field": "e", "type": "quantitative", "scale": {"domain": [0, 420], "nice": false, "zero": false},
     "axis": {"title": "Intensity\u00a0\u00a0\u00a0I", "labels": false, "ticks": false, "domainColor": "black", "domainWidth": 2,
       "titleFont": "Liberation Serif", "titleFontSize": 33, "titleFontWeight": "normal", "titleColor": "black",
       "titlePadding": 24}}}},
  {"data": {"name": "bot"}, "mark": {"type": "point", "shape": "circle", "filled": false, "color": "#ff0000", "size": 34, "strokeWidth": 1.2},
   "encoding": {"y": {"field": "e", "type": "quantitative"}}},
  {"data": {"name": "bot"}, "mark": {"type": "line", "color": "black", "strokeWidth": 2.5},
   "encoding": {"y": {"field": "c", "type": "quantitative"}}},
  {"data": {"name": "bot"}, "mark": {"type": "line", "color": "#0000ff", "strokeWidth": 2.5},
   "encoding": {"y": {"field": "d", "type": "quantitative"}}},
  {"data": {"name": "botTicks"}, "mark": {"type": "rule", "color": "#008000", "strokeWidth": 1.5},
   "encoding": {"y": {"datum": 47, "type": "quantitative"}, "y2": {"datum": 57}}},
  {"data": {"name": "botHkl"}, "mark": {"type": "text", "angle": 270, "align": "left", "baseline": "middle", "font": "Liberation Serif", "fontSize": 28, "color": "black"},
   "encoding": {"y": {"field": "y", "type": "quantitative"}, "text": {"field": "t"}}},
  {"data": {"name": "botLeg"}, "transform": [{"filter": "datum.s != 'marker'"}], "mark": {"type": "rule", "strokeWidth": 2.5},
   "encoding": {"x2": {"field": "x2"}, "y": {"field": "y", "type": "quantitative"},
     "color": {"field": "s", "type": "nominal", "scale": {"domain": ["exp", "calc", "diff"], "range": ["#ff0000", "#000000", "#0000ff"]}, "legend": null}}},
  {"data": {"name": "botLeg"}, "transform": [{"filter": "datum.s == 'marker'"}], "mark": {"type": "point", "shape": "circle", "filled": true, "fill": "white", "stroke": "#ff0000", "size": 40, "strokeWidth": 1.3},
   "encoding": {"y": {"field": "y", "type": "quantitative"}}},
  {"data": {"name": "botTxt"}, "transform": [{"filter": "datum.r == 'sym'"}], "mark": {"type": "text", "align": "left", "baseline": "alphabetic", "font": "Liberation Serif", "fontStyle": "italic", "fontSize": 30, "color": "black"},
   "encoding": {"y": {"field": "y", "type": "quantitative"}, "text": {"field": "t"}}},
  {"data": {"name": "botTxt"}, "transform": [{"filter": "datum.r == 'lab'"}], "mark": {"type": "text", "align": "left", "baseline": "alphabetic", "font": "Liberation Serif", "fontSize": 30, "color": "black"},
   "encoding": {"y": {"field": "y", "type": "quantitative"}, "text": {"field": "t"}}},
  {"data": {"name": "botTxt"}, "transform": [{"filter": "datum.r == 'fm'"}], "mark": {"type": "text", "align": "left", "baseline": "alphabetic", "font": "Liberation Serif", "fontSize": 34, "color": "black"},
   "encoding": {"y": {"field": "y", "type": "quantitative"}, "text": {"field": "t"}}},
  {"data": {"name": "botTxt"}, "transform": [{"filter": "datum.r == 'fs'"}], "mark": {"type": "text", "align": "left", "baseline": "alphabetic", "font": "Liberation Serif", "fontSize": 28, "color": "black"},
   "encoding": {"y": {"field": "y", "type": "quantitative"}, "text": {"field": "t"}}},
  {"data": {"name": "botTxt"}, "transform": [{"filter": "datum.r == 'sg'"}], "mark": {"type": "text", "align": "left", "baseline": "alphabetic", "font": "Liberation Serif", "fontStyle": "italic", "fontSize": 33, "color": "black"},
   "encoding": {"y": {"field": "y", "type": "quantitative"}, "text": {"field": "t"}}}
]
}
]
}
